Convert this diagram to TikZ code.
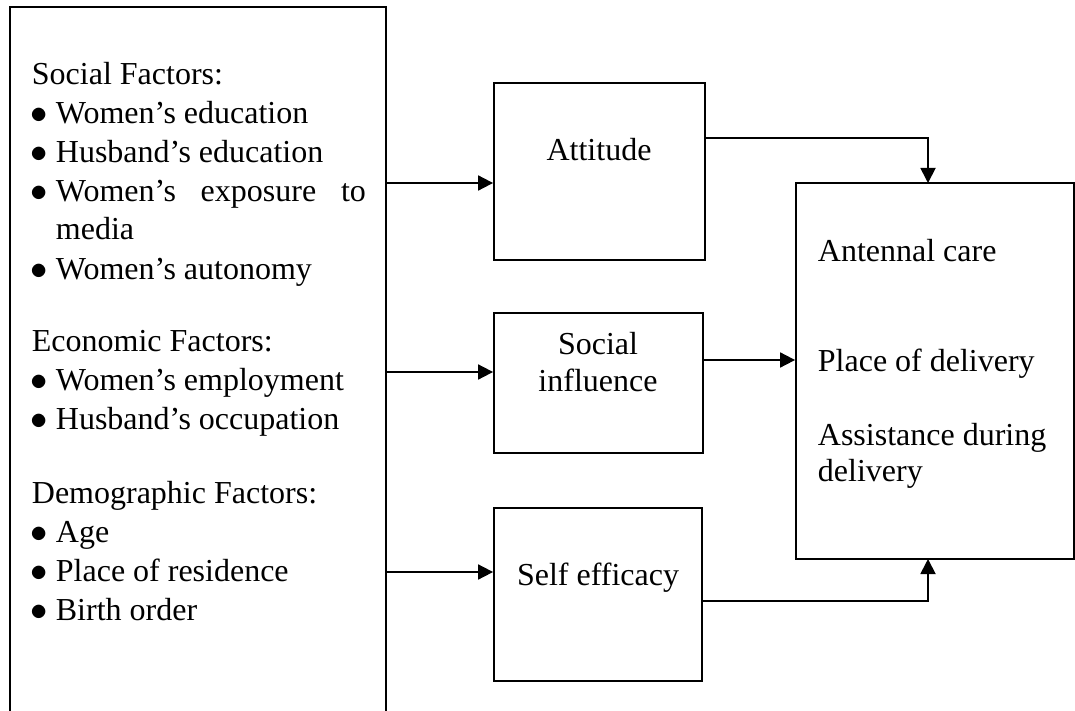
\documentclass[tikz,border=0pt]{standalone}
\usepackage{fontspec}
\setmainfont{Liberation Serif}
\usetikzlibrary{arrows.meta}
\begin{document}
\begin{tikzpicture}[x=0.5pt,y=-0.5pt,
  line width=0.9pt,
  boxst/.style={draw,rectangle,inner sep=0pt},
  txt/.style={inner sep=0pt,anchor=base west,font=\fontsize{16pt}{19pt}\selectfont},
  ctxt/.style={inner sep=0pt,anchor=base,font=\fontsize{16pt}{19pt}\selectfont},
  bul/.style={inner sep=0pt,anchor=base west,font=\fontsize{16pt}{19pt}\selectfont},
  arr/.style={-{Triangle[length=7.5pt,width=7.5pt]}}]
\useasboundingbox (0,0) rectangle (1075,711);
% left box (open at bottom)
\draw (10,720) -- (10,7) -- (386,7) -- (386,720);
\coordinate (lba) at (386,183);
\coordinate (lbb) at (386,372);
\coordinate (lbc) at (386,572);
% left texts
\node[txt] (t1) at (31,85) {Social Factors:};
\node[bul] (b1) at (30,124) {$\bullet$};
\node[txt] (t2) at (55,124) {Women’s education};
\node[bul] (b2) at (30,163) {$\bullet$};
\node[txt] (t3) at (55,163) {Husband’s education};
\node[bul] (b3) at (30,202) {$\bullet$};
\node[txt] (t4) at (55,202) {\makebox[155pt][s]{Women’s exposure to}};
\node[txt] (t5) at (55,240) {media};
\node[bul] (b4) at (30,279) {$\bullet$};
\node[txt] (t6) at (55,279) {Women’s autonomy};
\node[txt] (t7) at (31,351) {Economic Factors:};
\node[bul] (b5) at (30,390) {$\bullet$};
\node[txt] (t8) at (55,390) {Women’s employment};
\node[bul] (b6) at (30,429) {$\bullet$};
\node[txt] (t9) at (55,429) {Husband’s occupation};
\node[txt] (t10) at (31,503) {Demographic Factors:};
\node[bul] (b7) at (30,542) {$\bullet$};
\node[txt] (t11) at (55,542) {Age};
\node[bul] (b8) at (30,581) {$\bullet$};
\node[txt] (t12) at (55,581) {Place of residence};
\node[bul] (b9) at (30,620) {$\bullet$};
\node[txt] (t13) at (55,620) {Birth order};
% middle boxes
\node[boxst,minimum width=105.5pt,minimum height=88.5pt] (att) at (599.5,171.5) {};
\node[boxst,minimum width=104.5pt,minimum height=70pt] (soc) at (598.5,383) {};
\node[boxst,minimum width=104pt,minimum height=86.5pt] (self) at (598,594.5) {};
\node[ctxt] (attt) at (599,161) {Attitude};
\node[ctxt] (soct1) at (598,354) {Social};
\node[ctxt] (soct2) at (598,391) {influence};
\node[ctxt] (selft) at (598,585) {Self efficacy};
% outcome box
\node[boxst,minimum width=139pt,minimum height=188pt] (out) at (935,371) {};
\node[txt] (o1) at (817,261) {Antennal care};
\node[txt] (o2) at (817,371) {Place of delivery};
\node[txt] (o3) at (817,445) {Assistance during};
\node[txt] (o4) at (817,481) {delivery};
% connectors
\draw[arr] (lba) -- (lba -| att.west);
\draw[arr] (lbb) -- (lbb -| soc.west);
\draw[arr] (lbc) -- (lbc -| self.west);
\coordinate (attout) at (705,138);
\coordinate (topin) at (928,183);
\coordinate (socout) at (703,360);
\coordinate (selfout) at (702,601);
\coordinate (botin) at (928,559);
\draw[arr] (attout) -| (topin);
\draw[arr] (socout) -- (socout -| out.west);
\draw[arr] (selfout) -| (botin);
\end{tikzpicture}
\end{document}
